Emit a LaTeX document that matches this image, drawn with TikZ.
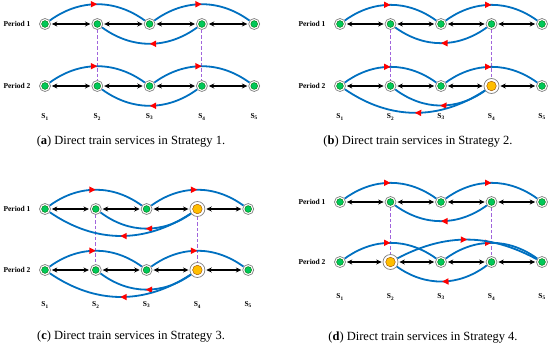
\documentclass[tikz,border=0pt]{standalone}
\usepackage{fontspec}
\setmainfont{Liberation Serif}
\usetikzlibrary{arrows.meta, decorations.markings}

\definecolor{svblue}{RGB}{0,112,192}
\definecolor{stgreen}{RGB}{0,200,90}
\definecolor{hubyellow}{RGB}{255,190,0}
\definecolor{vpurple}{RGB}{160,100,220}

\tikzset{
  station/.style={circle, draw=gray, fill=white, line width=0.7pt,
    minimum size=11pt, inner sep=0pt,
    path picture={\draw[green!45!black, fill=stgreen, line width=0.4pt]
      (path picture bounding box.center) circle (3.4pt);}},
  hub/.style={circle, draw=gray, fill=white, line width=0.7pt,
    minimum size=15pt, inner sep=0pt,
    path picture={\draw[orange!60!black, fill=hubyellow, line width=0.4pt]
      (path picture bounding box.center) circle (4.8pt);}},
  link/.style={black, line width=1.2pt, {Stealth[length=5.5pt,width=5pt]}-{Stealth[length=5.5pt,width=5pt]},
    shorten <=1pt, shorten >=1pt},
  service/.style={draw=svblue, line width=1.8pt, postaction={decorate},
    decoration={markings, mark=at position 0.5 with
      {\arrow[red]{Triangle[length=6.5pt,width=6pt]}}}},
  vlink/.style={vpurple, line width=1.1pt, dash pattern=on 3.5pt off 2pt},
  period/.style={font=\fontsize{7.5}{9}\selectfont\bfseries},
  stlab/.style={font=\fontsize{7.5}{9}\selectfont\bfseries},
  caption/.style={font=\fontsize{12.5}{14}\selectfont}
}

\begin{document}
\begin{tikzpicture}[x=1pt, y=-1pt]
  \useasboundingbox (0,0) rectangle (550,346);

  % =================================================================
  % (a) Strategy 1
  % =================================================================
  \foreach \i in {1,...,5} {
    \node[station] (a1-\i) at ({45+(\i-1)*52.3},24) {};
    \node[station] (a2-\i) at ({45+(\i-1)*52.3},86) {};
    \node[stlab] (a-s\i) at ({45+(\i-1)*52.3},117) {S\textsubscript{\i}};
  }
  \node[period] (a-p1) at (17,24) {Period 1};
  \node[period] (a-p2) at (17,86) {Period 2};

  % lien ket hai chieu giua cac ga lien ke
  \foreach \i/\j in {1/2,2/3,3/4,4/5} {
    \draw[link] (a1-\i) -- (a1-\j);
    \draw[link] (a2-\i) -- (a2-\j);
  }
  \draw[vlink] (a1-2) -- (a2-2);
  \draw[vlink] (a1-4) -- (a2-4);

  % cac chuyen tau truc tiep
  \draw[service] (a1-1) to[bend left=36] (a1-3);
  \draw[service] (a1-3) to[bend left=36] (a1-5);
  \draw[service] (a1-4) to[bend left=36] (a1-2);
  \draw[service] (a2-1) to[bend left=36] (a2-3);
  \draw[service] (a2-3) to[bend left=36] (a2-5);
  \draw[service] (a2-4) to[bend left=36] (a2-2);

  \node[caption] (cap-a) at (131,142) {(\textbf{a}) Direct train services in Strategy 1.};

  % =================================================================
  % (b) Strategy 2
  % =================================================================
  \foreach \i/\st in {1/station,2/station,3/station,4/station,5/station} {
    \node[\st] (b1-\i) at ({340+(\i-1)*50.5},24) {};
    \node[stlab] (b-s\i) at ({340+(\i-1)*50.5},117) {S\textsubscript{\i}};
  }
  \foreach \i/\st in {1/station,2/station,3/station,4/hub,5/station}
    \node[\st] (b2-\i) at ({340+(\i-1)*50.5},86) {};
  \node[period] (b-p1) at (312,24) {Period 1};
  \node[period] (b-p2) at (312,86) {Period 2};

  \foreach \i/\j in {1/2,2/3,3/4,4/5} {
    \draw[link] (b1-\i) -- (b1-\j);
    \draw[link] (b2-\i) -- (b2-\j);
  }
  \draw[vlink] (b1-2) -- (b2-2);
  \draw[vlink] (b1-4) -- (b2-4);

  \draw[service] (b1-1) to[bend left=36] (b1-3);
  \draw[service] (b1-3) to[bend left=36] (b1-5);
  \draw[service] (b1-4) to[bend left=36] (b1-2);
  \draw[service] (b2-1) to[bend left=36] (b2-3);
  \draw[service] (b2-3) to[bend left=36] (b2-5);
  \draw[service] (b2-4) to[bend left=36] (b2-2);
  \draw[service] (b2-4) to[bend left=34] (b2-1);

  \node[caption] (cap-b) at (418,142) {(\textbf{b}) Direct train services in Strategy 2.};

  % =================================================================
  % (c) Strategy 3
  % =================================================================
  \foreach \i/\st in {1/station,2/station,3/station,4/hub,5/station} {
    \node[\st] (c1-\i) at ({45+(\i-1)*50.8},209) {};
    \node[\st] (c2-\i) at ({45+(\i-1)*50.8},270) {};
    \node[stlab] (c-s\i) at ({45+(\i-1)*50.8},305) {S\textsubscript{\i}};
  }
  \node[period] (c-p1) at (17,209) {Period 1};
  \node[period] (c-p2) at (17,270) {Period 2};

  \foreach \i/\j in {1/2,2/3,3/4,4/5} {
    \draw[link] (c1-\i) -- (c1-\j);
    \draw[link] (c2-\i) -- (c2-\j);
  }
  \draw[vlink] (c1-2) -- (c2-2);
  \draw[vlink] (c1-4) -- (c2-4);

  \draw[service] (c1-1) to[bend left=36] (c1-3);
  \draw[service] (c1-3) to[bend left=36] (c1-5);
  \draw[service] (c1-4) to[bend left=36] (c1-2);
  \draw[service] (c1-4) to[bend left=34] (c1-1);
  \draw[service] (c2-1) to[bend left=36] (c2-3);
  \draw[service] (c2-3) to[bend left=36] (c2-5);
  \draw[service] (c2-4) to[bend left=36] (c2-2);
  \draw[service] (c2-4) to[bend left=34] (c2-1);

  \node[caption] (cap-c) at (131,337) {(\textbf{c}) Direct train services in Strategy 3.};

  % =================================================================
  % (d) Strategy 4
  % =================================================================
  \foreach \i in {1,...,5} {
    \node[station] (d1-\i) at ({340+(\i-1)*50.5},202) {};
    \node[stlab] (d-s\i) at ({340+(\i-1)*50.5},297) {S\textsubscript{\i}};
  }
  \foreach \i/\st in {1/station,2/hub,3/station,4/station,5/station}
    \node[\st] (d2-\i) at ({340+(\i-1)*50.5},262) {};
  \node[period] (d-p1) at (312,202) {Period 1};
  \node[period] (d-p2) at (312,262) {Period 2};

  \foreach \i/\j in {1/2,2/3,3/4,4/5} {
    \draw[link] (d1-\i) -- (d1-\j);
    \draw[link] (d2-\i) -- (d2-\j);
  }
  \draw[vlink] (d1-2) -- (d2-2);
  \draw[vlink] (d1-4) -- (d2-4);

  \draw[service] (d1-1) to[bend left=36] (d1-3);
  \draw[service] (d1-3) to[bend left=36] (d1-5);
  \draw[service] (d1-4) to[bend left=36] (d1-2);
  \draw[service] (d2-1) to[bend left=36] (d2-3);
  \draw[service] (d2-3) to[bend left=36] (d2-5);
  \draw[service] (d2-2) to[bend left=28] (d2-5);
  \draw[service] (d2-4) to[bend left=36] (d2-2);

  \node[caption] (cap-d) at (423,338) {(\textbf{d}) Direct train services in Strategy 4.};

\end{tikzpicture}
\end{document}
